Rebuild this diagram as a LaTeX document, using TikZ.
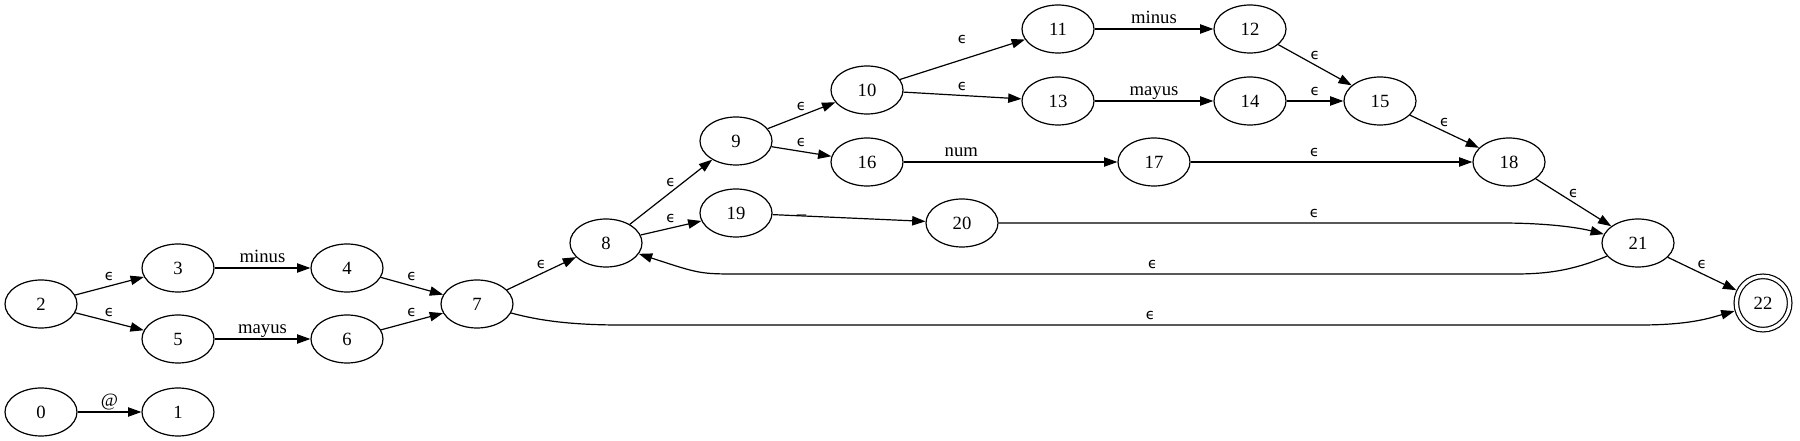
\documentclass[tikz,border=0pt]{standalone}
\usepackage{fontspec}
\setmainfont{Liberation Serif}
\newfontfamily\epsfont{DejaVu Sans}
\usetikzlibrary{shapes.geometric,arrows.meta}
\newcommand{\eps}{{\epsfont\fontsize{11}{13}\selectfont ϵ}}

\begin{document}
\begin{tikzpicture}[x=0.75pt, y=-0.75pt, >={Triangle[length=10pt,width=7pt]}]
    \tikzstyle{state} = [ellipse, draw, line width=0.9pt, minimum width=54pt, minimum height=36pt, inner sep=0pt, font=\fontsize{14}{16}\selectfont]
    \tikzstyle{accept} = [circle, draw, double, double distance=2.5pt, line width=0.9pt, minimum size=40pt, inner sep=0pt, outer sep=2.2pt, font=\fontsize{14}{16}\selectfont]
    \tikzstyle{trans} = [->, line width=0.9pt]
    \tikzstyle{lab} = [anchor=base, inner sep=0pt, yshift=4pt, font=\fontsize{14}{16}\selectfont]

    \useasboundingbox (0,0) rectangle (1800,441);

    % States
    \foreach \n/\x/\y in {0/41/412, 1/178/412, 2/41/304, 3/178/268, 4/347/268, 5/178/339, 6/347/339,
        7/477/304, 8/606/243, 9/736/141, 10/867/90, 11/1058/29, 12/1250/29, 13/1058/101, 14/1250/101,
        15/1380/101, 16/867/162, 17/1154/162, 18/1509/162, 19/736/213, 20/962/223, 21/1638/243}
        \node[state] (q\n) at (\x,\y) {\n};
    \node[accept] (q22) at (1763,303) {22};

    % Epsilon transitions
    \foreach \a/\b in {2/3, 2/5, 4/7, 6/7, 7/8, 8/9, 8/19, 9/10, 9/16, 10/13, 12/15, 14/15, 15/18, 18/21, 21/22}
        \draw[trans] (q\a) -- node[lab] {\eps} (q\b);
    \draw[trans] (q10) -- node[lab, yshift=8pt] {\eps} (q11);
    \draw[trans] (q17) -- node[lab, pos=0.44] {\eps} (q18);

    % Symbol transitions
    \draw[trans] (q0) -- node[lab] {@} (q1);
    \draw[trans] (q3) -- node[lab] {minus} (q4);
    \draw[trans] (q5) -- node[lab] {mayus} (q6);
    \draw[trans] (q11) -- node[lab] {minus} (q12);
    \draw[trans] (q13) -- node[lab] {mayus} (q14);
    \draw[trans] (q16) -- node[lab, pos=0.27] {num} (q17);
    \draw[trans] (q19) -- node[lab, pos=0.19, yshift=-2.5pt] {\_} (q20);

    % Long transitions
    \draw[trans] (q20) -- node[lab, pos=0.63] {\eps} (1500,223) .. controls (1550,223) and (1580,228) .. (q21);
    \draw[trans] (q21) .. controls (1560,276) and (1530,274) .. (1490,274)
        -- node[lab, pos=0.45] {\eps} (740,274) .. controls (700,274) .. (q8);
    \draw[trans] (q7) .. controls (530,318) and (560,325) .. (620,325)
        -- node[lab, pos=0.52] {\eps} (1640,325) .. controls (1690,325) and (1710,318) .. (q22);

\end{tikzpicture}
\end{document}
